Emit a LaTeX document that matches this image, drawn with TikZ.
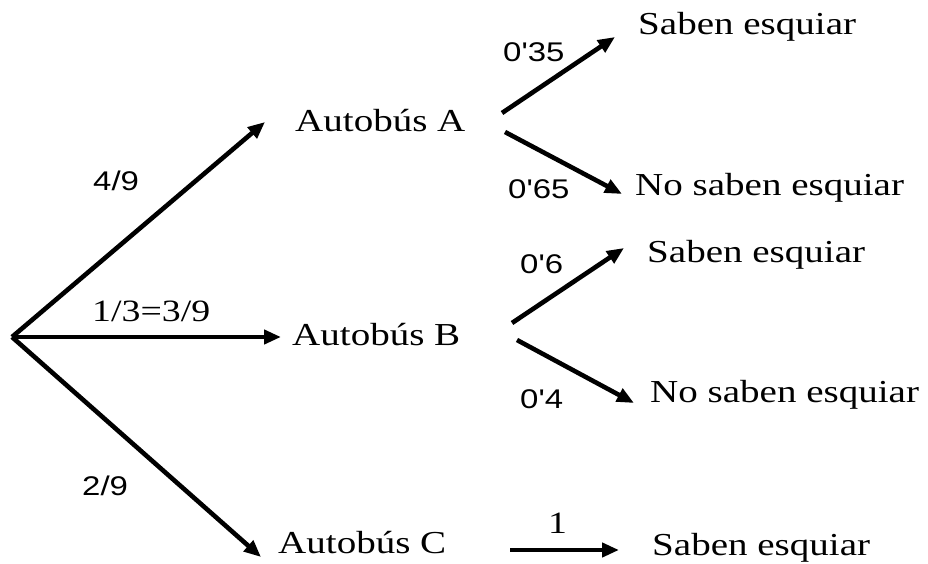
\documentclass[tikz,border=0pt]{standalone}
\usepackage{fontspec}
\usetikzlibrary{arrows.meta}
\newfontfamily\nodefont[FakeStretch=1.22]{Liberation Serif}
\newfontfamily\labfont[FakeStretch=1.22]{Liberation Sans}
\tikzset{
  txt/.style={anchor=base west, inner sep=0pt, font=\nodefont\fontsize{32}{36}\selectfont},
  lab/.style={anchor=base west, inner sep=0pt, font=\labfont\fontsize{27}{32}\selectfont},
  slab/.style={anchor=base west, inner sep=0pt, font=\nodefont\fontsize{31}{35}\selectfont},
  arr/.style={line width=4.6pt, -{Triangle[length=17pt,width=14pt]}},
}
\begin{document}
\begin{tikzpicture}[x=1pt,y=-1pt]
\useasboundingbox (0,0) rectangle (928,564);
% nodes
\coordinate (root) at (12,337);
\node[txt] (A) at (295,132) {Autobús A};
\node[txt] (B) at (292,345) {Autobús B};
\node[txt] (C) at (278,553) {Autobús C};
\node[txt] (AS) at (638,35) {Saben esquiar};
\node[txt] (AN) at (635,196) {No saben esquiar};
\node[txt] (BS) at (647,262) {Saben esquiar};
\node[txt] (BN) at (650,402) {No saben esquiar};
\node[txt] (CS) at (652,555) {Saben esquiar};
% arrow end points
\coordinate (Ain) at (265,122);
\coordinate (Bin) at (281,337);
\coordinate (Cin) at (261,557);
\coordinate (Aout1) at (502,113);
\coordinate (Aout2) at (505,132);
\coordinate (ASin) at (615,37);
\coordinate (ANin) at (622,194);
\coordinate (Bout1) at (512,323);
\coordinate (Bout2) at (517,340);
\coordinate (BSin) at (624,248);
\coordinate (BNin) at (634,403);
\coordinate (Cout) at (510,550);
\coordinate (CSin) at (619,550);
% connectors
\draw[arr] (root) -- (Ain);
\draw[arr] (root) -- (Bin);
\draw[arr] (root) -- (Cin);
\draw[arr] (Aout1) -- (ASin);
\draw[arr] (Aout2) -- (ANin);
\draw[arr] (Bout1) -- (BSin);
\draw[arr] (Bout2) -- (BNin);
\draw[arr] (Cout) -- (CSin);
% labels
\node[lab] (l49) at (93,190) {4/9};
\node[slab] (l13) at (92,321) {1/3=3/9};
\node[lab] (l29) at (82,495) {2/9};
\node[lab] (l035) at (503,62) {0'35};
\node[lab] (l065) at (508,198) {0'65};
\node[lab] (l06) at (520,273) {0'6};
\node[lab] (l04) at (520,408) {0'4};
\node[slab] (l1) at (548,533) {1};
\end{tikzpicture}
\end{document}
